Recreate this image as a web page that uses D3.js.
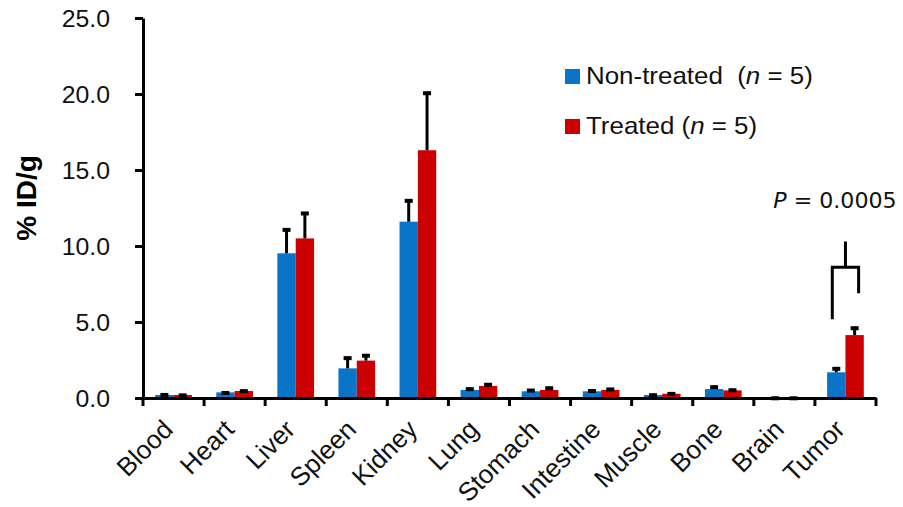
<!DOCTYPE html>
<html lang="en">
<head>
  <meta charset="UTF-8">
  <title>Biodistribution</title>
  <script src="https://d3js.org/d3.v7.min.js"></script>
  <style>
    body {
      margin: 0;
      background: #fff;
      font-family: "Liberation Sans", Arial, sans-serif;
    }
  </style>
</head>
<body>
  <svg width="903" height="507"></svg>

  <script>
    // Data (% ID/g, mean and upward SD)
    const organs = ["Blood", "Heart", "Liver", "Spleen", "Kidney", "Lung", "Stomach",
                    "Intestine", "Muscle", "Bone", "Brain", "Tumor"];
    const groups = ["Non-treated", "Treated"];
    const nonTreated    = [0.20, 0.37, 9.52, 1.95, 11.60, 0.53, 0.44, 0.44, 0.20, 0.59, 0.05, 1.69];
    const nonTreatedErr = [0.10, 0.06, 1.64, 0.77, 1.47, 0.15, 0.15, 0.12, 0.08, 0.22, 0.03, 0.33];
    const treated       = [0.20, 0.46, 10.50, 2.46, 16.30, 0.79, 0.53, 0.53, 0.28, 0.50, 0.05, 4.14];
    const treatedErr    = [0.07, 0.09, 1.74, 0.42, 3.85, 0.18, 0.21, 0.13, 0.09, 0.11, 0.03, 0.55];
    const yTicks = [0, 5, 10, 15, 20, 25];
    const colors = ["#0a74c9", "#cc0000"];
    const legendLabels = ["Non-treated", "Treated"];
    // significance bracket over Tumor: top, bar, left leg end, right leg end
    const bracket = [10.3, 8.6, 5.18, 6.89];
    const pValue = "0.0005";

    const SX = 1.08; // picture is slightly stretched horizontally

    const svg = d3.select("svg");
    const mLeft = 143, mRight = 876, mTop = 18, mBottom = 398;

    const x = d3.scaleBand().domain(organs).range([mLeft, mRight]).padding(0);
    const x1 = d3.scaleBand().domain(groups).range([0, x.bandwidth()]).paddingOuter(0.665).paddingInner(0);
    const y = d3.scaleLinear().domain([0, 25]).range([mBottom, mTop]);

    const rows = organs.map((o, i) => ({
      organ: o,
      vals: [
        { g: groups[0], v: nonTreated[i], e: nonTreatedErr[i] },
        { g: groups[1], v: treated[i], e: treatedErr[i] }
      ]
    }));

    const grp = svg.append("g").selectAll("g")
      .data(rows)
      .join("g")
      .attr("transform", d => `translate(${x(d.organ)},0)`);

    grp.selectAll("rect")
      .data(d => d.vals)
      .join("rect")
      .attr("x", d => x1(d.g))
      .attr("y", d => y(d.v))
      .attr("width", x1.bandwidth())
      .attr("height", d => y(0) - y(d.v))
      .attr("fill", (d, i) => colors[i]);

    // error bars (upward only)
    grp.selectAll("line.err")
      .data(d => d.vals)
      .join("line")
      .attr("class", "err")
      .attr("x1", d => x1(d.g) + x1.bandwidth() / 2)
      .attr("x2", d => x1(d.g) + x1.bandwidth() / 2)
      .attr("y1", d => y(d.v))
      .attr("y2", d => y(d.v + d.e))
      .attr("stroke", "#000")
      .attr("stroke-width", 3);

    grp.selectAll("line.cap")
      .data(d => d.vals)
      .join("line")
      .attr("class", "cap")
      .attr("x1", d => x1(d.g) + x1.bandwidth() / 2 - 4)
      .attr("x2", d => x1(d.g) + x1.bandwidth() / 2 + 4)
      .attr("y1", d => y(d.v + d.e) + 1.5)
      .attr("y2", d => y(d.v + d.e) + 1.5)
      .attr("stroke", "#000")
      .attr("stroke-width", 4);

    // Y axis
    const yAxis = svg.append("g")
      .attr("transform", `translate(${mLeft},0)`)
      .call(d3.axisLeft(y).tickValues(yTicks).tickFormat(d3.format(".1f")).tickSize(8).tickSizeOuter(0));
    yAxis.select(".domain").attr("stroke-width", 3);
    yAxis.selectAll(".tick line").attr("stroke-width", 3);
    yAxis.selectAll(".tick text")
      .attr("font-family", "'Liberation Sans', Arial, sans-serif")
      .attr("font-size", 23)
      .attr("fill", "#111")
      .attr("x", -33 / SX)
      .attr("dy", "0.36em")
      .attr("transform", `scale(${SX},1)`);

    // X axis
    const xAxis = svg.append("g")
      .attr("transform", `translate(0,${mBottom})`)
      .call(d3.axisBottom(x).tickSize(0).tickSizeOuter(0));
    xAxis.select(".domain").attr("stroke-width", 3);
    xAxis.selectAll(".tick text")
      .attr("font-family", "'Liberation Sans', Arial, sans-serif")
      .attr("font-size", 26)
      .attr("fill", "#111")
      .attr("text-anchor", "end")
      .attr("x", 0).attr("y", 0).attr("dy", 0)
      .attr("transform", "translate(1,33) rotate(-45)");

    // tick marks at category boundaries
    const bounds = organs.map(o => x(o)).concat([x(organs[organs.length - 1]) + x.bandwidth()]);
    svg.append("g").selectAll("line")
      .data(bounds)
      .join("line")
      .attr("x1", d => d).attr("x2", d => d)
      .attr("y1", mBottom).attr("y2", mBottom + 8)
      .attr("stroke", "#000")
      .attr("stroke-width", 3);

    // Y title
    svg.append("text")
      .attr("transform", `translate(36,198) rotate(-90)`)
      .attr("text-anchor", "middle")
      .attr("font-weight", "bold")
      .attr("font-size", 28)
      .text("% ID/g");

    // legend
    const leg = svg.append("g").selectAll("g")
      .data(legendLabels)
      .join("g")
      .attr("transform", (d, i) => `translate(565,${69 + i * 50})`);
    leg.append("rect")
      .attr("width", 15).attr("height", 15)
      .attr("fill", (d, i) => colors[i]);
    const lt = leg.append("text")
      .attr("x", 21 / SX).attr("y", 15)
      .attr("font-size", 24)
      .attr("fill", "#111")
      .attr("transform", `scale(${SX},1)`)
      .attr("xml:space", "preserve");
    lt.append("tspan").text((d, i) => i === 0 ? d + "  (" : d + " (");
    lt.append("tspan").attr("font-style", "italic").text("n");
    lt.append("tspan").text(" = 5)");

    // significance bracket
    const tc = x("Tumor");
    const lx = tc + x1(groups[0]) + x1.bandwidth() / 2 - 4;
    const rx = tc + x1(groups[1]) + x1.bandwidth() / 2 + 4;
    const mx = (lx + rx) / 2;
    const path = d3.path();
    path.moveTo(mx, y(bracket[0]));
    path.lineTo(mx, y(bracket[1]));
    path.moveTo(lx, y(bracket[2]));
    path.lineTo(lx, y(bracket[1]));
    path.lineTo(rx, y(bracket[1]));
    path.lineTo(rx, y(bracket[3]));
    svg.append("path")
      .attr("d", path.toString())
      .attr("fill", "none")
      .attr("stroke", "#000")
      .attr("stroke-width", 3);

    const pt = svg.append("text")
      .attr("x", 835 / SX).attr("y", 208)
      .attr("text-anchor", "middle")
      .attr("font-family", "'DejaVu Sans', sans-serif")
      .attr("font-size", 20.5)
      .attr("fill", "#111")
      .attr("transform", `scale(${SX},1)`);
    pt.append("tspan").attr("font-style", "italic").text("P");
    pt.append("tspan").text(" = " + pValue);
  </script>
</body>
</html>
